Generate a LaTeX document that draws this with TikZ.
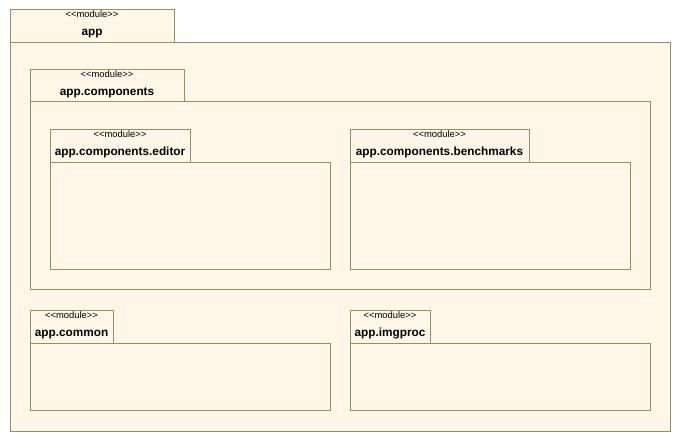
\documentclass[tikz,border=0pt]{standalone}
\usepackage{fontspec}
\setmainfont{Liberation Sans}
\definecolor{pkgfill}{HTML}{FFF8E8}
\definecolor{pkgline}{HTML}{9A8C66}
\tikzset{
  pkg/.style={draw=pkgline, fill=pkgfill, line width=1pt, inner sep=0pt, outer sep=0pt, anchor=north west},
  stereo/.style={anchor=base, inner sep=0pt, font=\fontsize{9.4}{10}\selectfont},
  pkgname/.style={anchor=base, inner sep=0pt, font=\fontsize{11.8}{13}\selectfont\bfseries},
}
\newcommand{\stereotxt}{\textless\kern0pt\textless\kern0pt module\kern0pt\textgreater\kern0pt\textgreater}
\begin{document}
\begin{tikzpicture}[x=1pt,y=-1pt]
\useasboundingbox (0,0) rectangle (681,441);
\fill[white] (0,0) rectangle (681,441);
% app
\node[pkg, minimum width=164pt, minimum height=33pt] (appTab) at (10,10) {};
\node[pkg, minimum width=660pt, minimum height=388pt] (appBody) at (10,43) {};
\node[stereo] (appSt) at (92,18) {\stereotxt};
\node[pkgname] (appName) at (92,36) {app};
% app.components
\node[pkg, minimum width=154pt, minimum height=32pt] (compTab) at (30,70) {};
\node[pkg, minimum width=620pt, minimum height=188pt] (compBody) at (30,102) {};
\node[stereo] (compSt) at (107,78) {\stereotxt};
\node[pkgname] (compName) at (107,96) {app.components};
% editor
\node[pkg, minimum width=140pt, minimum height=33pt] (edTab) at (50,130) {};
\node[pkg, minimum width=280pt, minimum height=107pt] (edBody) at (50,163) {};
\node[stereo] (edSt) at (120,138) {\stereotxt};
\node[pkgname] (edName) at (120,156) {app.components.editor};
% benchmarks
\node[pkg, minimum width=179pt, minimum height=33pt] (bmTab) at (350,130) {};
\node[pkg, minimum width=280pt, minimum height=107pt] (bmBody) at (350,163) {};
\node[stereo] (bmSt) at (439.5,138) {\stereotxt};
\node[pkgname] (bmName) at (439.5,156) {app.components.benchmarks};
% common
\node[pkg, minimum width=83pt, minimum height=33pt] (comTab) at (30,310) {};
\node[pkg, minimum width=300pt, minimum height=67pt] (comBody) at (30,343) {};
\node[stereo] (comSt) at (71.5,318) {\stereotxt};
\node[pkgname] (comName) at (71.5,336) {app.common};
% imgproc
\node[pkg, minimum width=80pt, minimum height=33pt] (imgTab) at (350,310) {};
\node[pkg, minimum width=300pt, minimum height=67pt] (imgBody) at (350,343) {};
\node[stereo] (imgSt) at (390,318) {\stereotxt};
\node[pkgname] (imgName) at (390,336) {app.imgproc};
\end{tikzpicture}
\end{document}
